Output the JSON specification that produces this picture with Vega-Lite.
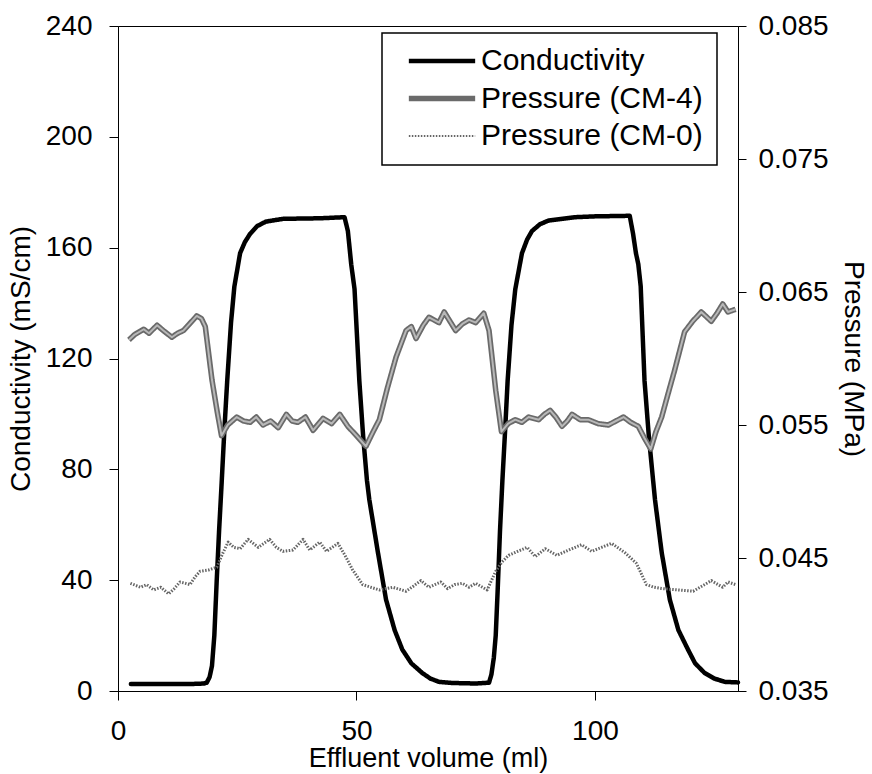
{
  "$schema": "https://vega.github.io/schema/vega-lite/v6.json",
  "width": 620,
  "height": 665,
  "autosize": {"type": "none"},
  "padding": {"left": 118, "top": 26, "right": 134, "bottom": 83},
  "background": "white",
  "datasets": {
    "cond": [
      {"series": "Conductivity", "x": 2.7, "v": 2.5},
      {"series": "Conductivity", "x": 5, "v": 2.5},
      {"series": "Conductivity", "x": 10, "v": 2.5},
      {"series": "Conductivity", "x": 15, "v": 2.5},
      {"series": "Conductivity", "x": 18, "v": 2.7},
      {"series": "Conductivity", "x": 18.6, "v": 3},
      {"series": "Conductivity", "x": 19.2, "v": 5},
      {"series": "Conductivity", "x": 19.7, "v": 9},
      {"series": "Conductivity", "x": 20.2, "v": 20},
      {"series": "Conductivity", "x": 20.7, "v": 40},
      {"series": "Conductivity", "x": 21.2, "v": 58},
      {"series": "Conductivity", "x": 21.7, "v": 74},
      {"series": "Conductivity", "x": 22.3, "v": 94},
      {"series": "Conductivity", "x": 22.9, "v": 112},
      {"series": "Conductivity", "x": 23.7, "v": 133},
      {"series": "Conductivity", "x": 24.4, "v": 146},
      {"series": "Conductivity", "x": 25.6, "v": 158},
      {"series": "Conductivity", "x": 26.6, "v": 162},
      {"series": "Conductivity", "x": 27.7, "v": 165},
      {"series": "Conductivity", "x": 29.2, "v": 167.8},
      {"series": "Conductivity", "x": 31, "v": 169.4},
      {"series": "Conductivity", "x": 34.6, "v": 170.4},
      {"series": "Conductivity", "x": 38, "v": 170.5},
      {"series": "Conductivity", "x": 42.3, "v": 170.6},
      {"series": "Conductivity", "x": 47.5, "v": 171},
      {"series": "Conductivity", "x": 48.2, "v": 166},
      {"series": "Conductivity", "x": 48.9, "v": 154},
      {"series": "Conductivity", "x": 49.6, "v": 145},
      {"series": "Conductivity", "x": 50.6, "v": 112},
      {"series": "Conductivity", "x": 51.4, "v": 92},
      {"series": "Conductivity", "x": 52.2, "v": 76},
      {"series": "Conductivity", "x": 52.7, "v": 69},
      {"series": "Conductivity", "x": 54.5, "v": 50},
      {"series": "Conductivity", "x": 56.2, "v": 33},
      {"series": "Conductivity", "x": 58, "v": 22},
      {"series": "Conductivity", "x": 59.6, "v": 15},
      {"series": "Conductivity", "x": 61.5, "v": 10},
      {"series": "Conductivity", "x": 63.8, "v": 6.5},
      {"series": "Conductivity", "x": 65.5, "v": 4.5},
      {"series": "Conductivity", "x": 67.3, "v": 3.3},
      {"series": "Conductivity", "x": 70, "v": 2.9},
      {"series": "Conductivity", "x": 75, "v": 2.7},
      {"series": "Conductivity", "x": 77.8, "v": 3},
      {"series": "Conductivity", "x": 78.3, "v": 6},
      {"series": "Conductivity", "x": 78.8, "v": 12},
      {"series": "Conductivity", "x": 79.2, "v": 20},
      {"series": "Conductivity", "x": 79.6, "v": 36},
      {"series": "Conductivity", "x": 80.1, "v": 58},
      {"series": "Conductivity", "x": 80.6, "v": 76},
      {"series": "Conductivity", "x": 81.2, "v": 95},
      {"series": "Conductivity", "x": 81.7, "v": 112},
      {"series": "Conductivity", "x": 82.5, "v": 132},
      {"series": "Conductivity", "x": 83.3, "v": 145},
      {"series": "Conductivity", "x": 84.7, "v": 158},
      {"series": "Conductivity", "x": 85.8, "v": 163},
      {"series": "Conductivity", "x": 86.8, "v": 166},
      {"series": "Conductivity", "x": 88.5, "v": 168.5},
      {"series": "Conductivity", "x": 90.3, "v": 169.8},
      {"series": "Conductivity", "x": 95.9, "v": 171},
      {"series": "Conductivity", "x": 100, "v": 171.3},
      {"series": "Conductivity", "x": 107.3, "v": 171.5},
      {"series": "Conductivity", "x": 108, "v": 165},
      {"series": "Conductivity", "x": 108.6, "v": 158},
      {"series": "Conductivity", "x": 109.1, "v": 154},
      {"series": "Conductivity", "x": 109.6, "v": 146},
      {"series": "Conductivity", "x": 110.4, "v": 112},
      {"series": "Conductivity", "x": 111.3, "v": 92},
      {"series": "Conductivity", "x": 112.2, "v": 76},
      {"series": "Conductivity", "x": 112.6, "v": 69},
      {"series": "Conductivity", "x": 114, "v": 50},
      {"series": "Conductivity", "x": 115.7, "v": 33},
      {"series": "Conductivity", "x": 117.5, "v": 22},
      {"series": "Conductivity", "x": 119.5, "v": 15},
      {"series": "Conductivity", "x": 121, "v": 10},
      {"series": "Conductivity", "x": 123, "v": 6.5},
      {"series": "Conductivity", "x": 125, "v": 4.5},
      {"series": "Conductivity", "x": 127.2, "v": 3.3},
      {"series": "Conductivity", "x": 130, "v": 3.1}
    ],
    "pres": [
      {"series": "Pressure (CM-4)", "x": 2.3, "p": 0.0614},
      {"series": "Pressure (CM-4)", "x": 3.5, "p": 0.0618},
      {"series": "Pressure (CM-4)", "x": 5.4, "p": 0.0622},
      {"series": "Pressure (CM-4)", "x": 6.5, "p": 0.0619},
      {"series": "Pressure (CM-4)", "x": 8.2, "p": 0.0625},
      {"series": "Pressure (CM-4)", "x": 9.5, "p": 0.0621},
      {"series": "Pressure (CM-4)", "x": 11.3, "p": 0.0616},
      {"series": "Pressure (CM-4)", "x": 12.5, "p": 0.0619},
      {"series": "Pressure (CM-4)", "x": 13.7, "p": 0.0621},
      {"series": "Pressure (CM-4)", "x": 15, "p": 0.0626},
      {"series": "Pressure (CM-4)", "x": 16.5, "p": 0.0632},
      {"series": "Pressure (CM-4)", "x": 17.5, "p": 0.063},
      {"series": "Pressure (CM-4)", "x": 18.3, "p": 0.0624},
      {"series": "Pressure (CM-4)", "x": 19.7, "p": 0.0584},
      {"series": "Pressure (CM-4)", "x": 20.8, "p": 0.056},
      {"series": "Pressure (CM-4)", "x": 21.7, "p": 0.0542},
      {"series": "Pressure (CM-4)", "x": 23, "p": 0.055},
      {"series": "Pressure (CM-4)", "x": 24.9, "p": 0.0556},
      {"series": "Pressure (CM-4)", "x": 26.3, "p": 0.0553},
      {"series": "Pressure (CM-4)", "x": 27.7, "p": 0.0552},
      {"series": "Pressure (CM-4)", "x": 29, "p": 0.0556},
      {"series": "Pressure (CM-4)", "x": 30.4, "p": 0.055},
      {"series": "Pressure (CM-4)", "x": 32, "p": 0.0553},
      {"series": "Pressure (CM-4)", "x": 33.6, "p": 0.0548},
      {"series": "Pressure (CM-4)", "x": 35.3, "p": 0.0558},
      {"series": "Pressure (CM-4)", "x": 36.5, "p": 0.0553},
      {"series": "Pressure (CM-4)", "x": 37.7, "p": 0.0552},
      {"series": "Pressure (CM-4)", "x": 39.3, "p": 0.0556},
      {"series": "Pressure (CM-4)", "x": 40.9, "p": 0.0546},
      {"series": "Pressure (CM-4)", "x": 43, "p": 0.0555},
      {"series": "Pressure (CM-4)", "x": 44.8, "p": 0.0551},
      {"series": "Pressure (CM-4)", "x": 46.5, "p": 0.0558},
      {"series": "Pressure (CM-4)", "x": 48.2, "p": 0.0549},
      {"series": "Pressure (CM-4)", "x": 50, "p": 0.0542},
      {"series": "Pressure (CM-4)", "x": 52, "p": 0.0534},
      {"series": "Pressure (CM-4)", "x": 53.5, "p": 0.0545},
      {"series": "Pressure (CM-4)", "x": 54.8, "p": 0.0554},
      {"series": "Pressure (CM-4)", "x": 56.5, "p": 0.0578},
      {"series": "Pressure (CM-4)", "x": 58.3, "p": 0.0601},
      {"series": "Pressure (CM-4)", "x": 60.4, "p": 0.0621},
      {"series": "Pressure (CM-4)", "x": 61.5, "p": 0.0624},
      {"series": "Pressure (CM-4)", "x": 62.5, "p": 0.0615},
      {"series": "Pressure (CM-4)", "x": 64, "p": 0.0625},
      {"series": "Pressure (CM-4)", "x": 65.2, "p": 0.0631},
      {"series": "Pressure (CM-4)", "x": 67.3, "p": 0.0627},
      {"series": "Pressure (CM-4)", "x": 68.4, "p": 0.0635},
      {"series": "Pressure (CM-4)", "x": 69.6, "p": 0.0628},
      {"series": "Pressure (CM-4)", "x": 70.8, "p": 0.0621},
      {"series": "Pressure (CM-4)", "x": 72.2, "p": 0.0626},
      {"series": "Pressure (CM-4)", "x": 73.6, "p": 0.0629},
      {"series": "Pressure (CM-4)", "x": 75, "p": 0.0627},
      {"series": "Pressure (CM-4)", "x": 76.7, "p": 0.0634},
      {"series": "Pressure (CM-4)", "x": 77.8, "p": 0.0621},
      {"series": "Pressure (CM-4)", "x": 79.2, "p": 0.0576},
      {"series": "Pressure (CM-4)", "x": 80.4, "p": 0.0545},
      {"series": "Pressure (CM-4)", "x": 81.8, "p": 0.0551},
      {"series": "Pressure (CM-4)", "x": 83.3, "p": 0.0554},
      {"series": "Pressure (CM-4)", "x": 84.7, "p": 0.0552},
      {"series": "Pressure (CM-4)", "x": 86.1, "p": 0.0556},
      {"series": "Pressure (CM-4)", "x": 88.2, "p": 0.0554},
      {"series": "Pressure (CM-4)", "x": 89.4, "p": 0.0558},
      {"series": "Pressure (CM-4)", "x": 90.6, "p": 0.0561},
      {"series": "Pressure (CM-4)", "x": 91.8, "p": 0.0556},
      {"series": "Pressure (CM-4)", "x": 93.1, "p": 0.0549},
      {"series": "Pressure (CM-4)", "x": 94.2, "p": 0.0553},
      {"series": "Pressure (CM-4)", "x": 95.2, "p": 0.0558},
      {"series": "Pressure (CM-4)", "x": 96.9, "p": 0.0554},
      {"series": "Pressure (CM-4)", "x": 98.6, "p": 0.0554},
      {"series": "Pressure (CM-4)", "x": 100.7, "p": 0.0551},
      {"series": "Pressure (CM-4)", "x": 102.8, "p": 0.055},
      {"series": "Pressure (CM-4)", "x": 104.4, "p": 0.0553},
      {"series": "Pressure (CM-4)", "x": 106, "p": 0.0556},
      {"series": "Pressure (CM-4)", "x": 107.5, "p": 0.0552},
      {"series": "Pressure (CM-4)", "x": 109.1, "p": 0.0549},
      {"series": "Pressure (CM-4)", "x": 110.4, "p": 0.054},
      {"series": "Pressure (CM-4)", "x": 111.7, "p": 0.0532},
      {"series": "Pressure (CM-4)", "x": 112.8, "p": 0.0545},
      {"series": "Pressure (CM-4)", "x": 114, "p": 0.0556},
      {"series": "Pressure (CM-4)", "x": 115.3, "p": 0.0573},
      {"series": "Pressure (CM-4)", "x": 116.7, "p": 0.0591},
      {"series": "Pressure (CM-4)", "x": 118.8, "p": 0.062},
      {"series": "Pressure (CM-4)", "x": 120.5, "p": 0.0628},
      {"series": "Pressure (CM-4)", "x": 122.3, "p": 0.0635},
      {"series": "Pressure (CM-4)", "x": 124.4, "p": 0.0628},
      {"series": "Pressure (CM-4)", "x": 125.6, "p": 0.0634},
      {"series": "Pressure (CM-4)", "x": 126.8, "p": 0.0641},
      {"series": "Pressure (CM-4)", "x": 127.9, "p": 0.0635},
      {"series": "Pressure (CM-4)", "x": 129.5, "p": 0.0637},
      {"series": "Pressure (CM-0)", "x": 2.6, "p": 0.0431},
      {"series": "Pressure (CM-0)", "x": 4.7, "p": 0.0428},
      {"series": "Pressure (CM-0)", "x": 6, "p": 0.043},
      {"series": "Pressure (CM-0)", "x": 7.5, "p": 0.0426},
      {"series": "Pressure (CM-0)", "x": 9, "p": 0.0428},
      {"series": "Pressure (CM-0)", "x": 10.6, "p": 0.0423},
      {"series": "Pressure (CM-0)", "x": 11.8, "p": 0.0427},
      {"series": "Pressure (CM-0)", "x": 13, "p": 0.0432},
      {"series": "Pressure (CM-0)", "x": 15.1, "p": 0.043},
      {"series": "Pressure (CM-0)", "x": 16.2, "p": 0.0436},
      {"series": "Pressure (CM-0)", "x": 17.2, "p": 0.044},
      {"series": "Pressure (CM-0)", "x": 19, "p": 0.0441},
      {"series": "Pressure (CM-0)", "x": 20.7, "p": 0.0443},
      {"series": "Pressure (CM-0)", "x": 21.9, "p": 0.0453},
      {"series": "Pressure (CM-0)", "x": 23.1, "p": 0.0462},
      {"series": "Pressure (CM-0)", "x": 24.3, "p": 0.0458},
      {"series": "Pressure (CM-0)", "x": 25.6, "p": 0.0457},
      {"series": "Pressure (CM-0)", "x": 27.3, "p": 0.0464},
      {"series": "Pressure (CM-0)", "x": 29.4, "p": 0.0458},
      {"series": "Pressure (CM-0)", "x": 30.6, "p": 0.0461},
      {"series": "Pressure (CM-0)", "x": 31.8, "p": 0.0464},
      {"series": "Pressure (CM-0)", "x": 33.2, "p": 0.0458},
      {"series": "Pressure (CM-0)", "x": 34.6, "p": 0.0455},
      {"series": "Pressure (CM-0)", "x": 36.7, "p": 0.0456},
      {"series": "Pressure (CM-0)", "x": 38.8, "p": 0.0464},
      {"series": "Pressure (CM-0)", "x": 40.2, "p": 0.0456},
      {"series": "Pressure (CM-0)", "x": 42.3, "p": 0.0462},
      {"series": "Pressure (CM-0)", "x": 43.7, "p": 0.0455},
      {"series": "Pressure (CM-0)", "x": 46.1, "p": 0.0461},
      {"series": "Pressure (CM-0)", "x": 47.6, "p": 0.0452},
      {"series": "Pressure (CM-0)", "x": 49.2, "p": 0.0441},
      {"series": "Pressure (CM-0)", "x": 51.3, "p": 0.043},
      {"series": "Pressure (CM-0)", "x": 53, "p": 0.0428},
      {"series": "Pressure (CM-0)", "x": 54.8, "p": 0.0426},
      {"series": "Pressure (CM-0)", "x": 57.6, "p": 0.0428},
      {"series": "Pressure (CM-0)", "x": 60.4, "p": 0.0425},
      {"series": "Pressure (CM-0)", "x": 62, "p": 0.0429},
      {"series": "Pressure (CM-0)", "x": 63.5, "p": 0.0433},
      {"series": "Pressure (CM-0)", "x": 65.2, "p": 0.0428},
      {"series": "Pressure (CM-0)", "x": 67.7, "p": 0.0432},
      {"series": "Pressure (CM-0)", "x": 69.1, "p": 0.0427},
      {"series": "Pressure (CM-0)", "x": 70.6, "p": 0.043},
      {"series": "Pressure (CM-0)", "x": 72.2, "p": 0.0431},
      {"series": "Pressure (CM-0)", "x": 73.6, "p": 0.0428},
      {"series": "Pressure (CM-0)", "x": 75, "p": 0.0431},
      {"series": "Pressure (CM-0)", "x": 77.4, "p": 0.0426},
      {"series": "Pressure (CM-0)", "x": 79.2, "p": 0.044},
      {"series": "Pressure (CM-0)", "x": 80.5, "p": 0.0447},
      {"series": "Pressure (CM-0)", "x": 81.9, "p": 0.0452},
      {"series": "Pressure (CM-0)", "x": 83.8, "p": 0.0455},
      {"series": "Pressure (CM-0)", "x": 85.8, "p": 0.0458},
      {"series": "Pressure (CM-0)", "x": 87.5, "p": 0.0451},
      {"series": "Pressure (CM-0)", "x": 89.6, "p": 0.0457},
      {"series": "Pressure (CM-0)", "x": 92, "p": 0.0452},
      {"series": "Pressure (CM-0)", "x": 94.5, "p": 0.0456},
      {"series": "Pressure (CM-0)", "x": 97.2, "p": 0.046},
      {"series": "Pressure (CM-0)", "x": 99.3, "p": 0.0455},
      {"series": "Pressure (CM-0)", "x": 101.4, "p": 0.0458},
      {"series": "Pressure (CM-0)", "x": 103.5, "p": 0.0461},
      {"series": "Pressure (CM-0)", "x": 106.3, "p": 0.0454},
      {"series": "Pressure (CM-0)", "x": 108.7, "p": 0.0446},
      {"series": "Pressure (CM-0)", "x": 110.8, "p": 0.043},
      {"series": "Pressure (CM-0)", "x": 112.4, "p": 0.0428},
      {"series": "Pressure (CM-0)", "x": 114, "p": 0.0427},
      {"series": "Pressure (CM-0)", "x": 117.4, "p": 0.0426},
      {"series": "Pressure (CM-0)", "x": 120.6, "p": 0.0425},
      {"series": "Pressure (CM-0)", "x": 122.5, "p": 0.0429},
      {"series": "Pressure (CM-0)", "x": 124.4, "p": 0.0433},
      {"series": "Pressure (CM-0)", "x": 126.8, "p": 0.0428},
      {"series": "Pressure (CM-0)", "x": 127.9, "p": 0.0432},
      {"series": "Pressure (CM-0)", "x": 129.5, "p": 0.043}
    ]
  },
  "layer": [
    {
      "data": {"name": "cond"},
      "mark": {"type": "line", "strokeWidth": 4.5, "strokeJoin": "round", "strokeCap": "round"},
      "encoding": {
        "x": {"field": "x", "type": "quantitative", "scale": {"domain": [0, 130], "nice": false},
          "axis": {"values": [0, 50, 100], "title": "Effluent volume (ml)", "tickSize": 9, "labelPadding": 17, "titlePadding": 0, "titleFontSize": 27, "grid": false}},
        "y": {"field": "v", "type": "quantitative", "scale": {"domain": [0, 240], "nice": false, "zero": false},
          "axis": {"orient": "left", "values": [0, 40, 80, 120, 160, 200, 240], "title": "Conductivity (mS/cm)", "tickSize": 9, "labelPadding": 17, "titlePadding": 10, "grid": false}},
        "color": {"field": "series", "type": "nominal",
          "scale": {"domain": ["Conductivity", "Pressure (CM-4)", "Pressure (CM-0)"], "range": ["#000000", "#6a6a6a", "#666666"]},
          "legend": {"title": null, "orient": "none", "legendX": 264, "legendY": 7, "symbolType": "stroke", "symbolSize": 4400, "clipHeight": 28, "rowPadding": 7.5, "padding": 14, "symbolOffset": 31, "labelOffset": 24, "labelFontSize": 30, "labelLimit": 0, "labelFont": "Liberation Sans", "labelColor": "black", "strokeColor": "black", "fillColor": "white",
            "encode": {"legend": {"update": {"strokeWidth": {"value": 1.5}}}, "symbols": {"update": {"strokeWidth": {"signal": "datum.value === 'Conductivity' ? 4.5 : datum.value === 'Pressure (CM-4)' ? 5.5 : 2"}}}}}},
        "strokeDash": {"field": "series", "type": "nominal",
          "scale": {"domain": ["Conductivity", "Pressure (CM-4)", "Pressure (CM-0)"], "range": [[1, 0], [1, 0], [1.5, 1.5]]}}
      }
    },
    {
      "data": {"name": "pres"},
      "encoding": {
        "x": {"field": "x", "type": "quantitative", "scale": {"domain": [0, 130], "nice": false}},
        "y": {"field": "p", "type": "quantitative", "scale": {"domain": [0.035, 0.085], "nice": false, "zero": false},
          "axis": {"orient": "right", "values": [0.035, 0.045, 0.055, 0.065, 0.075, 0.085], "format": ".3f", "title": "Pressure (MPa)", "tickSize": 8, "labelPadding": 12, "titlePadding": 10, "titleAngle": 90, "grid": false}}
      },
      "layer": [
        {
          "mark": {"type": "line", "strokeJoin": "round"},
          "encoding": {
            "color": {"field": "series", "type": "nominal",
              "scale": {"domain": ["Conductivity", "Pressure (CM-4)", "Pressure (CM-0)"], "range": ["#000000", "#6a6a6a", "#666666"]}},
            "strokeDash": {"field": "series", "type": "nominal",
              "scale": {"domain": ["Conductivity", "Pressure (CM-4)", "Pressure (CM-0)"], "range": [[1, 0], [1, 0], [1.5, 1.5]]}},
            "strokeWidth": {"condition": {"test": "datum.series === 'Pressure (CM-4)'", "value": 5.5}, "value": 3}
          }
        },
        {
          "transform": [{"filter": "datum.series === 'Pressure (CM-4)'"}],
          "mark": {"type": "line", "color": "#b8b8b8", "strokeWidth": 2, "strokeJoin": "round"},
          "encoding": {}
        }
      ]
    }
  ],
  "resolve": {"scale": {"y": "independent"}},
  "config": {
    "view": {"stroke": "black", "strokeWidth": 1},
    "axis": {"labelFont": "Liberation Sans", "titleFont": "Liberation Sans", "labelFontSize": 28, "titleFontSize": 28, "titleFontWeight": "normal", "labelColor": "black", "titleColor": "black", "domainColor": "black", "tickColor": "black", "domainWidth": 1, "tickWidth": 1, "labelFlush": false, "labelOverlap": false}
  }
}
